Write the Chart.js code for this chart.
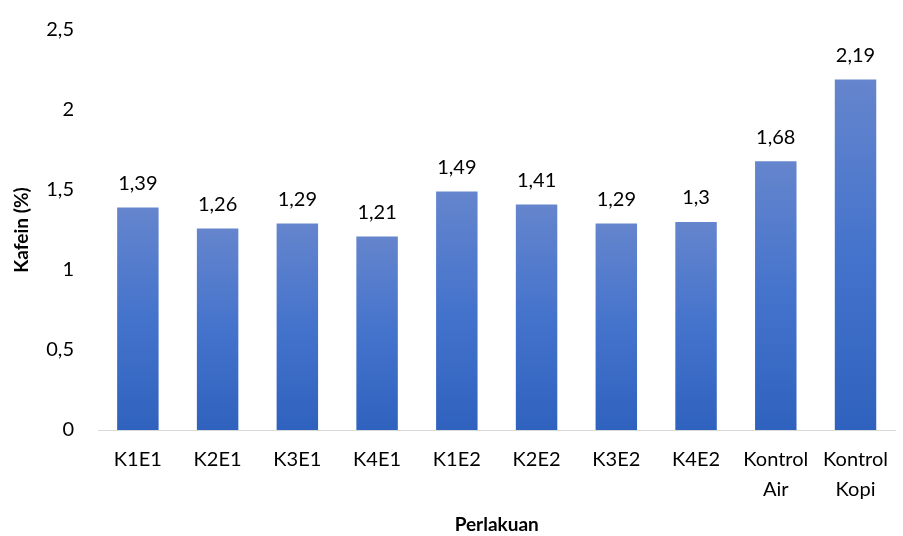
<!DOCTYPE html>
<html>
<head>
<meta charset="utf-8">
<script src="https://cdn.jsdelivr.net/npm/chart.js@4"></script>
<style>
  html, body { margin: 0; padding: 0; background: #fff; }
  #wrap { width: 903px; height: 536px; }
</style>
</head>
<body>
<div id="wrap"><canvas id="kafeinChart"></canvas></div>
<script>
var categories = ["K1E1", "K2E1", "K3E1", "K4E1", "K1E2", "K2E2", "K3E2", "K4E2", ["Kontrol", "Air"], ["Kontrol", "Kopi"]];
var kafein = [1.39, 1.26, 1.29, 1.21, 1.49, 1.41, 1.29, 1.3, 1.68, 2.19];
var yTicks = [0, 0.5, 1, 1.5, 2, 2.5];

var FONT = "Lato, 'Open Sans', sans-serif";

function koma(v) {
  return String(v).replace(".", ",");
}

// gradient per bar, lighter at the top
function barFill(ctx) {
  var chart = ctx.chart;
  var area = chart.chartArea;
  if (!area || ctx.type !== "data") return "#4472C4";
  var y = chart.scales.y;
  var top = y.getPixelForValue(ctx.raw);
  var bottom = y.getPixelForValue(0);
  var g = chart.ctx.createLinearGradient(0, top, 0, bottom);
  g.addColorStop(0, "#6585CD");
  g.addColorStop(0.5, "#4473CC");
  g.addColorStop(1, "#2F62BE");
  return g;
}

var valueLabels = {
  id: "valueLabels",
  afterDatasetsDraw: function (chart) {
    var c = chart.ctx;
    var meta = chart.getDatasetMeta(0);
    c.save();
    c.font = "20px " + FONT;
    c.fillStyle = "#000";
    c.textAlign = "center";
    c.textBaseline = "bottom";
    meta.data.forEach(function (bar, i) {
      c.fillText(koma(kafein[i]), bar.x, bar.y - 14);
    });
    c.restore();
  }
};

new Chart(document.getElementById("kafeinChart"), {
  type: "bar",
  data: {
    labels: categories,
    datasets: [{
      data: kafein,
      backgroundColor: barFill,
      barPercentage: 0.52,
      categoryPercentage: 1
    }]
  },
  options: {
    responsive: true,
    maintainAspectRatio: false,
    animation: false,
    layout: { padding: { left: 10, right: 0, top: 30, bottom: 0 } },
    plugins: {
      legend: { display: false },
      tooltip: { enabled: false }
    },
    scales: {
      x: {
        afterFit: function (axis) {
          axis.height = 106;
        },
        grid: { display: false, drawTicks: false },
        border: { display: true, color: "#D9D9D9", width: 1 },
        ticks: { color: "#000", font: { family: FONT, size: 20, lineHeight: 1.5 }, padding: 15, maxRotation: 0, autoSkip: false },
        title: { display: true, text: "Perlakuan", color: "#000", font: { family: FONT, size: 19, weight: "bold" }, padding: { top: 6, bottom: 0 } }
      },
      y: {
        min: 0,
        max: 2.5,
        afterBuildTicks: function (axis) {
          axis.ticks = yTicks.map(function (v) { return { value: v }; });
        },
        afterFit: function (axis) {
          axis.width = 88;
          axis.paddingTop = 0;
          axis.paddingBottom = 0;
        },
        grid: { display: false, drawTicks: false },
        border: { display: false },
        ticks: {
          color: "#000",
          font: { family: FONT, size: 20 },
          padding: 24,
          callback: function (v) { return koma(v); }
        },
        title: { display: true, text: "Kafein (%)", color: "#000", font: { family: FONT, size: 19, weight: "bold" }, padding: { top: 0, bottom: 6 } }
      }
    }
  },
  plugins: [valueLabels]
});
</script>
</body>
</html>
